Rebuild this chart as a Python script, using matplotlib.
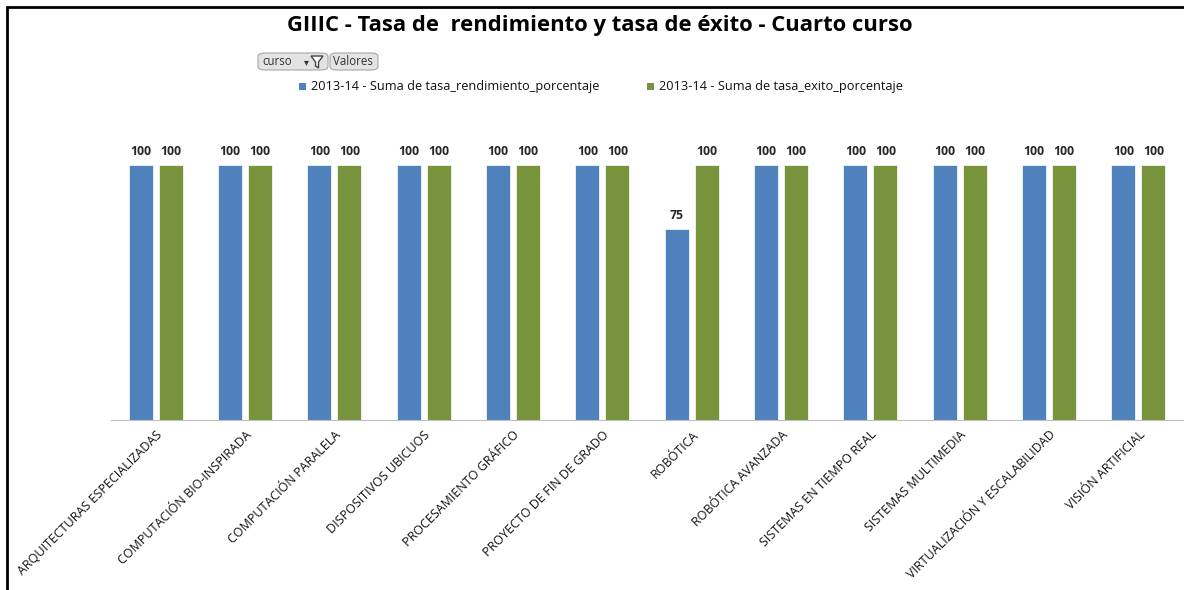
import numpy as np
import matplotlib.pyplot as plt
from matplotlib.lines import Line2D
from matplotlib.patches import FancyBboxPatch, Rectangle, Polygon

plt.rcParams["font.family"] = ["Open Sans", "DejaVu Sans"]

asignaturas = ["ARQUITECTURAS ESPECIALIZADAS", "COMPUTACIÓN BIO-INSPIRADA", "COMPUTACIÓN PARALELA",
               "DISPOSITIVOS UBICUOS", "PROCESAMIENTO GRÁFICO", "PROYECTO DE FIN DE GRADO",
               "ROBÓTICA", "ROBÓTICA AVANZADA", "SISTEMAS EN TIEMPO REAL",
               "SISTEMAS MULTIMEDIA", "VIRTUALIZACIÓN Y ESCALABILIDAD", "VISIÓN ARTIFICIAL"]
rendimiento = [100, 100, 100, 100, 100, 100, 75, 100, 100, 100, 100, 100]
exito = [100, 100, 100, 100, 100, 100, 100, 100, 100, 100, 100, 100]
series = ["2013-14 - Suma de tasa_rendimiento_porcentaje", "2013-14 - Suma de tasa_exito_porcentaje"]

AZUL = "#4F81BD"; VERDE = "#77933C"

fig = plt.figure(figsize=(11.84, 5.90), dpi=100)
ax = fig.add_axes([111 / 1184, 170 / 590, 1072 / 1184, 290 / 590])

x = np.arange(len(asignaturas))
w = 0.27; off = 0.168
b1 = ax.bar(x - off, rendimiento, w, color=AZUL, edgecolor="white", lw=0.5)
b2 = ax.bar(x + off, exito, w, color=VERDE, edgecolor="white", lw=0.5)
for bars in (b1, b2):
    ax.bar_label(bars, padding=5, fontsize=8.8, fontweight="bold", color="#262626")

ax.set_xlim(-0.5, len(asignaturas) - 0.5)
ax.set_ylim(0, 113.7)
ax.set_yticks([])
for s in ("top", "right", "left"):
    ax.spines[s].set_visible(False)
ax.spines["bottom"].set_color("#BFBFBF")
ax.set_xticks(x)
ax.set_xticklabels(asignaturas, rotation=45, ha="right", va="top", rotation_mode="anchor",
                   fontsize=9.0, color="#111")
ax.tick_params(axis="x", length=0, pad=6)

fig.text(0.507, 0.957, "GIIIC - Tasa de  rendimiento y tasa de éxito - Cuarto curso",
         ha="center", va="center", fontsize=15.8, fontweight="bold", color="black")

# pivot-table field buttons
for (x0, x1) in [(258, 328), (330, 378)]:
    fig.add_artist(FancyBboxPatch((x0 / 1184, 1 - 70 / 590), (x1 - x0) / 1184, 17 / 590,
                                  boxstyle="round,pad=0,rounding_size=0.006", transform=fig.transFigure,
                                  fc="#E3E3E3", ec="#A6A6A6", lw=0.8))
fig.text(262 / 1184, 1 - 61.5 / 590, "curso", fontsize=8.3, va="center", color="#333")
fig.text(333 / 1184, 1 - 61.5 / 590, "Valores", fontsize=8.3, va="center", color="#333")
# filter funnel
fig.add_artist(Polygon([[311 / 1184, 1 - 56 / 590], [323 / 1184, 1 - 56 / 590], [318.5 / 1184, 1 - 62 / 590],
                        [318.5 / 1184, 1 - 68 / 590], [315.5 / 1184, 1 - 66 / 590], [315.5 / 1184, 1 - 62 / 590]],
                       closed=True, transform=fig.transFigure, fc="white", ec="#444", lw=1))
fig.text(306 / 1184, 1 - 63 / 590, "▾", fontsize=7, va="center", ha="center", color="#333")

# legend
for (xs, col, txt) in [(299, AZUL, series[0]), (647, VERDE, series[1])]:
    fig.add_artist(Rectangle((xs / 1184, 1 - 90 / 590), 7 / 1184, 7 / 590,
                             transform=fig.transFigure, fc=col, ec="none"))
    fig.text((xs + 12) / 1184, 1 - 86.5 / 590, txt, fontsize=9.2, va="center", color="#111")

# frame
fig.add_artist(Line2D([6 / 1184, 1], [1 - 6.5 / 590] * 2, transform=fig.transFigure, color="black", lw=2,
                      solid_capstyle="butt"))
fig.add_artist(Line2D([6.5 / 1184] * 2, [0, 1 - 6 / 590], transform=fig.transFigure, color="black", lw=2,
                      solid_capstyle="butt"))

fig.savefig("out.png", dpi=100)
